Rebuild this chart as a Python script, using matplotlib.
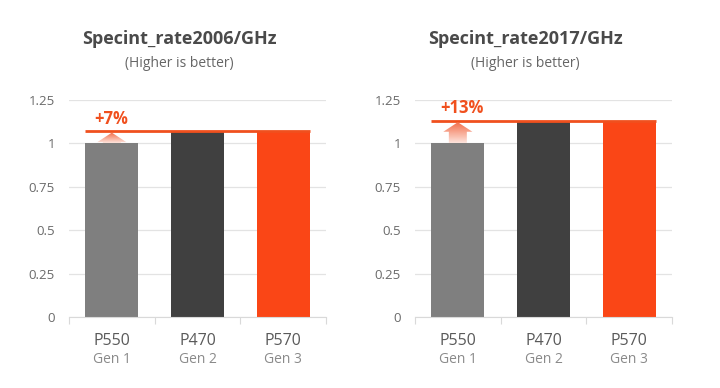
import matplotlib
matplotlib.use("Agg")
import matplotlib.pyplot as plt
import numpy as np
from matplotlib.patches import Polygon
from matplotlib.colors import LinearSegmentedColormap

plt.rcParams["font.family"] = ["Open Sans", "DejaVu Sans"]

cpus = ["P550", "P470", "P570"]
gens = ["Gen 1", "Gen 2", "Gen 3"]
titles = ["Specint_rate2006/GHz", "Specint_rate2017/GHz"]
rate2006 = [1.0, 1.07, 1.07]
rate2017 = [1.0, 1.13, 1.13]
gains = ["+7%", "+13%"]

BAR_COLORS = ["#7f7f7f", "#404040", "#fa4616"]
ORANGE = "#f0501e"
TEXT_GRAY = "#6a6a6a"
GRID = "#e3e3e3"

grad = LinearSegmentedColormap.from_list("arrow", ["#fde3dc", "#f26a45"])


def draw_panel(ax, values, title, gain):
    x = np.arange(len(values))
    ax.bar(x, values, width=0.62, color=BAR_COLORS, zorder=2)
    ax.set_xlim(-0.5, len(values) - 0.5)
    ax.set_ylim(0, 1.25)
    ax.set_yticks([0, 0.25, 0.5, 0.75, 1, 1.25])
    ax.set_yticklabels(["0", "0.25", "0.5", "0.75", "1", "1.25"])
    ax.grid(axis="y", color=GRID, linewidth=0.9, zorder=0)
    for side in ["top", "right", "left"]:
        ax.spines[side].set_visible(False)
    ax.spines["bottom"].set_color("#d9d9d9")
    ax.tick_params(axis="y", length=0, colors=TEXT_GRAY, labelsize=9.5, pad=10)
    ax.set_xticks(np.arange(-0.5, len(values), 1.0))
    ax.set_xticklabels([])
    ax.tick_params(axis="x", length=5, color="#d9d9d9")
    for i, (c, g) in enumerate(zip(cpus, gens)):
        ax.text(i, -0.095, c, ha="center", va="top", fontsize=11.5, color="#5a5a5a",
                clip_on=False)
        ax.text(i, -0.2, g, ha="center", va="top", fontsize=10, color="#8a8a8a",
                clip_on=False)

    top = values[-1]
    base = values[0]
    ax.plot([-0.31, len(values) - 1 + 0.31], [top, top], color=ORANGE, lw=2, zorder=3,
            solid_capstyle="butt")

    # gradient arrow from first bar up to the line
    tip = top - 0.008
    head_h = 0.055
    sw, hw = 0.105, 0.17
    pts = [(-sw, base), (sw, base), (sw, tip - head_h), (hw, tip - head_h),
           (0, tip), (-hw, tip - head_h), (-sw, tip - head_h)]
    poly = Polygon(pts, closed=True, facecolor="none", edgecolor="none")
    ax.add_patch(poly)
    img = ax.imshow(np.linspace(0, 1, 64).reshape(-1, 1), cmap=grad, origin="lower",
                    extent=[-hw, hw, base, tip], aspect="auto", zorder=4)
    img.set_clip_path(poly)

    ax.text(-0.2, top + 0.02, gain, ha="left", va="bottom", fontsize=12,
            fontweight="bold", color=ORANGE)

    ax.set_title(title, fontsize=13, fontweight="bold", color="#4a4a4a", pad=40,
                 loc="center", x=0.43)
    ax.text(0.43, 1.17, "(Higher is better)", transform=ax.transAxes, ha="center",
            va="center", fontsize=10, color="#666666")


fig = plt.figure(figsize=(7.2, 3.88), dpi=100)
ax1 = fig.add_axes([69 / 720, 71 / 388, 257 / 720, 217 / 388])
ax2 = fig.add_axes([415 / 720, 71 / 388, 257 / 720, 217 / 388])
draw_panel(ax1, rate2006, titles[0], gains[0])
draw_panel(ax2, rate2017, titles[1], gains[1])

fig.savefig("out.png", dpi=100)
